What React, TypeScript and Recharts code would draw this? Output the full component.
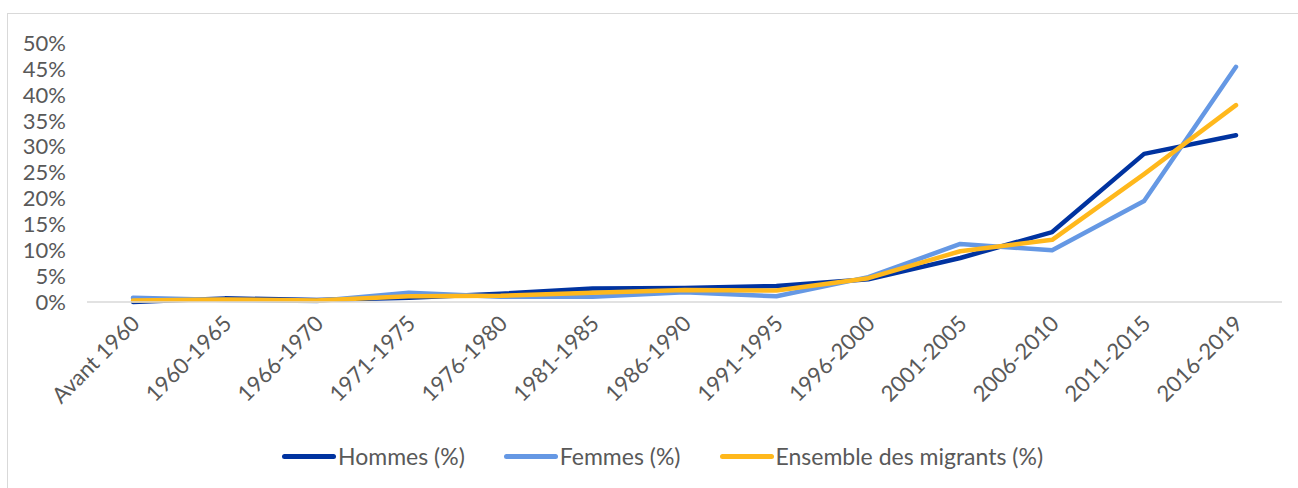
import { Line, LineChart, XAxis, YAxis } from 'recharts';

const periods = [
  'Avant 1960',
  '1960-1965',
  '1966-1970',
  '1971-1975',
  '1976-1980',
  '1981-1985',
  '1986-1990',
  '1991-1995',
  '1996-2000',
  '2001-2005',
  '2006-2010',
  '2011-2015',
  '2016-2019',
];

const hommes = [0.0, 0.7, 0.4, 0.8, 1.6, 2.6, 2.7, 3.1, 4.4, 8.5, 13.5, 28.6, 32.2];
const femmes = [0.8, 0.4, 0.2, 1.8, 1.0, 1.0, 1.9, 1.1, 4.8, 11.2, 10.0, 19.5, 45.4];
const ensemble = [0.3, 0.5, 0.3, 1.1, 1.2, 1.8, 2.3, 2.2, 4.6, 9.8, 12.0, 24.7, 38.0];

const yTicks = [0, 5, 10, 15, 20, 25, 30, 35, 40, 45, 50];

const series = [
  { key: 'hommes', label: 'Hommes (%)', color: '#0033A0' },
  { key: 'femmes', label: 'Femmes (%)', color: '#6598E4' },
  { key: 'ensemble', label: 'Ensemble des migrants (%)', color: '#FFB81C' },
];

const FONT = 'Lato, "Open Sans", sans-serif';
const TEXT = '#595959';
const FS = 22;

const data = periods.map((period, i) => ({
  period,
  hommes: hommes[i],
  femmes: femmes[i],
  ensemble: ensemble[i],
}));

function PeriodTick({ x, y, payload }: { x?: number; y?: number; payload?: { value: string } }) {
  return (
    <g transform={`translate(${(x ?? 0) + 8},${(y ?? 0) + 15})`}>
      <text
        x={0}
        y={0}
        textAnchor="end"
        transform="rotate(-45)"
        fill={TEXT}
        fontSize={FS}
        fontFamily={FONT}
      >
        {payload?.value}
      </text>
    </g>
  );
}

export default function App() {
  return (
    <div style={{ position: 'absolute', left: 0, top: 0, width: 1298, height: 488, background: '#fff', overflow: 'hidden' }}>
      {/* frame of the original chart area, only left and top edges visible */}
      <div
        style={{
          position: 'absolute',
          left: 7,
          top: 13,
          width: 1400,
          height: 600,
          borderLeft: '1.5px solid #d9d9d9',
          borderTop: '1.5px solid #d9d9d9',
        }}
      />
      <div style={{ position: 'absolute', left: 0, top: 0 }}>
        <LineChart width={1298} height={488} data={data} margin={{ top: 43, right: 16, left: 0, bottom: 0 }}>
          <XAxis
            dataKey="period"
            height={186}
            interval={0}
            padding={{ left: 46, right: 46 }}
            tickLine={false}
            axisLine={{ stroke: '#d9d9d9', strokeWidth: 1.5 }}
            tick={<PeriodTick />}
          />
          <YAxis
            width={87}
            domain={[0, 50]}
            ticks={yTicks}
            interval={0}
            tickFormatter={(v: number) => `${v}%`}
            axisLine={false}
            tickLine={false}
            tickSize={0}
            tickMargin={21}
            tick={{ fill: TEXT, fontSize: FS, fontFamily: FONT }}
          />
          {series.map((s) => (
            <Line
              key={s.key}
              type="linear"
              dataKey={s.key}
              stroke={s.color}
              strokeWidth={4.5}
              strokeLinecap="round"
              strokeLinejoin="round"
              dot={false}
              activeDot={false}
              isAnimationActive={false}
            />
          ))}
        </LineChart>
      </div>
      <div
        style={{
          position: 'absolute',
          left: 282,
          top: 442,
          display: 'flex',
          alignItems: 'center',
          gap: 39,
          fontFamily: FONT,
          fontSize: 23,
          color: TEXT,
        }}
      >
        {series.map((s) => (
          <div key={s.key} style={{ display: 'flex', alignItems: 'center', gap: 2 }}>
            <span style={{ width: 54, height: 5, borderRadius: 3, background: s.color, display: 'inline-block' }} />
            <span>{s.label}</span>
          </div>
        ))}
      </div>
    </div>
  );
}
